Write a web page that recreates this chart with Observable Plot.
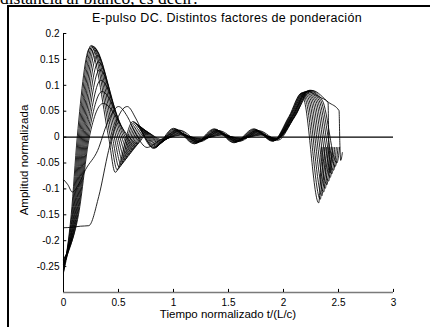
<!DOCTYPE html>
<html><head><meta charset="utf-8">
<script src="https://cdn.jsdelivr.net/npm/d3@7"></script>
<script src="https://cdn.jsdelivr.net/npm/@observablehq/plot@0.6"></script>
<style>
html,body{margin:0;padding:0;background:#fff;}
#wrap{position:relative;width:430px;height:327px;overflow:hidden;background:#fff;font-family:"Liberation Sans",Arial,sans-serif;color:#000;}
#doc{position:absolute;left:0;top:-10px;font:17.5px/17.5px "Liberation Serif","Times New Roman",serif;white-space:nowrap;}
#frame{position:absolute;left:7px;top:5px;width:440px;height:340px;border-left:2px solid #000;border-top:2px solid #000;}
.lbl{position:absolute;white-space:nowrap;line-height:1;transform:translate(-50%,-50%);font-size:11.5px;}
#chart{position:absolute;left:0;top:0;}
</style></head><body>
<div id="wrap">
<div id="doc">distancia al blanco, es decir:</div>
<div id="chart"></div>
<div id="frame"></div>
<div class="lbl" id="title" style="left:227px;top:17.8px;font-size:12.5px;letter-spacing:0.3px">E-pulso DC. Distintos factores de ponderación</div>
<div class="lbl" id="xl" style="left:228px;top:314.5px">Tiempo normalizado t/(L/c)</div>
<div class="lbl" id="yl" style="left:25px;top:160px;transform:translate(-50%,-50%) rotate(-90deg)">Amplitud normalizada</div>
</div>
<script>
// axis settings
const xDomain = [0, 3];
const yDomain = [-0.3, 0.2];
const xTicks = [0, 0.5, 1, 1.5, 2, 2.5, 3];
const xTickLabels = ["0", "0.5", "1", "1.5", "2", "2.5", "3"];
const yTicks = [-0.25, -0.2, -0.15, -0.1, -0.05, 0, 0.05, 0.1, 0.15, 0.2];
const yTickLabels = ["-0.25", "-0.2", "-0.15", "-0.1", "-0.05", "0", "0.05", "0.1", "0.15", "0.2"];

// curves: [t, amplitude]
const c0 = [[0,-0.262],[0.07,-0.15],[0.125,0],[0.24,0.172],[0.41,0],[0.47,-0.068],[0.63,0.03],[0.82,-0.022],[1.0,0.017],[1.19,-0.013],[1.37,0.016],[1.55,-0.011],[1.73,0.016],[1.9,-0.008],[2.05,0.04],[2.165,0.085],[2.19,0.07],[2.32,-0.127],[2.345,-0.02]];
const c1 = [[0,-0.258],[0.076,-0.15],[0.135,0],[0.251,0.177],[0.427,0],[0.488,-0.063],[0.642,0.028],[0.826,-0.0204],[1.006,0.0158],[1.196,-0.0121],[1.376,0.0149],[1.556,-0.0102],[1.736,0.0149],[1.904,-0.0075],[2.055,0.04],[2.172,0.0855],[2.205,0.07],[2.335,-0.12],[2.36,-0.02]];
const c2 = [[0,-0.255],[0.082,-0.15],[0.145,0],[0.262,0.176],[0.444,0],[0.506,-0.058],[0.654,0.026],[0.832,-0.0188],[1.012,0.0146],[1.202,-0.0112],[1.382,0.0138],[1.562,-0.0094],[1.742,0.0138],[1.908,-0.007],[2.06,0.04],[2.179,0.086],[2.22,0.07],[2.35,-0.113],[2.375,-0.02]];
const c3 = [[0,-0.252],[0.088,-0.15],[0.155,0],[0.273,0.175],[0.461,0],[0.524,-0.053],[0.666,0.024],[0.838,-0.0172],[1.018,0.0134],[1.208,-0.0103],[1.388,0.0127],[1.568,-0.0086],[1.748,0.0127],[1.912,-0.0065],[2.065,0.04],[2.186,0.0865],[2.235,0.07],[2.365,-0.106],[2.39,-0.02]];
const c4 = [[0,-0.26],[0.094,-0.15],[0.165,0],[0.284,0.172],[0.478,0],[0.542,-0.048],[0.678,0.022],[0.844,-0.0156],[1.024,0.0122],[1.214,-0.0094],[1.394,0.0116],[1.574,-0.0078],[1.754,0.0116],[1.916,-0.006],[2.07,0.04],[2.193,0.087],[2.25,0.07],[2.38,-0.099],[2.405,-0.02]];
const c5 = [[0,-0.248],[0.1,-0.15],[0.175,0],[0.295,0.167],[0.495,0],[0.56,-0.043],[0.69,0.02],[0.85,-0.014],[1.03,0.011],[1.22,-0.0085],[1.4,0.0105],[1.58,-0.007],[1.76,0.0105],[1.92,-0.0055],[2.075,0.04],[2.2,0.0875],[2.265,0.07],[2.395,-0.092],[2.42,-0.02]];
const c6 = [[0,-0.245],[0.106,-0.15],[0.185,0],[0.306,0.158],[0.512,0],[0.578,-0.038],[0.702,0.018],[0.856,-0.0124],[1.036,0.0098],[1.226,-0.0076],[1.406,0.0094],[1.586,-0.0062],[1.766,0.0094],[1.924,-0.005],[2.08,0.04],[2.207,0.088],[2.28,0.07],[2.41,-0.085],[2.435,-0.02]];
const c7 = [[0,-0.25],[0.112,-0.15],[0.195,0],[0.317,0.145],[0.529,0],[0.596,-0.033],[0.714,0.016],[0.862,-0.0108],[1.042,0.0086],[1.232,-0.0067],[1.412,0.0083],[1.592,-0.0054],[1.772,0.0083],[1.928,-0.0045],[2.085,0.04],[2.214,0.0885],[2.295,0.07],[2.425,-0.078],[2.45,-0.02]];
const c8 = [[0,-0.242],[0.118,-0.15],[0.205,0],[0.328,0.13],[0.546,0],[0.614,-0.028],[0.726,0.014],[0.868,-0.0092],[1.048,0.0074],[1.238,-0.0058],[1.418,0.0072],[1.598,-0.0046],[1.778,0.0072],[1.932,-0.004],[2.09,0.04],[2.221,0.089],[2.31,0.07],[2.44,-0.071],[2.465,-0.02]];
const c9 = [[0,-0.238],[0.124,-0.15],[0.215,0],[0.339,0.11],[0.563,0],[0.632,-0.023],[0.738,0.012],[0.874,-0.0076],[1.054,0.0062],[1.244,-0.0049],[1.424,0.0061],[1.604,-0.0038],[1.784,0.0061],[1.936,-0.0035],[2.095,0.04],[2.228,0.0895],[2.325,0.07],[2.455,-0.064],[2.48,-0.02]];
const c10 = [[0,-0.244],[0.13,-0.15],[0.225,0],[0.35,0.088],[0.58,0],[0.65,-0.018],[0.75,0.01],[0.88,-0.006],[1.06,0.005],[1.25,-0.004],[1.43,0.005],[1.61,-0.003],[1.79,0.005],[1.94,-0.003],[2.1,0.04],[2.235,0.09],[2.34,0.07],[2.47,-0.057],[2.495,-0.02]];
const c11 = [[0,-0.236],[0.136,-0.15],[0.235,0],[0.361,0.065],[0.597,0],[0.668,-0.013],[0.762,0.008],[0.886,-0.0044],[1.066,0.0038],[1.256,-0.0031],[1.436,0.0039],[1.616,-0.0022],[1.796,0.0039],[1.944,-0.0025],[2.105,0.04],[2.242,0.0905],[2.355,0.07],[2.485,-0.05],[2.51,-0.02]];
const cA = [[0,-0.082],[0.04,-0.092],[0.08,-0.106],[0.14,-0.09],[0.2,-0.063],[0.31,-0.026],[0.4,0.028],[0.5,0.059],[0.58,0.04],[0.66,0.005],[0.76,-0.02],[0.86,-0.008],[0.94,0.002],[1.04,0.014],[1.22,-0.01],[1.4,0.013],[1.58,-0.009],[1.76,0.013],[1.93,-0.006],[2.08,0.04],[2.22,0.088],[2.32,0.078],[2.405,0.067],[2.412,-0.02],[2.42,-0.069],[2.44,-0.03]];
const cB = [[0,-0.175],[0.08,-0.174],[0.155,-0.172],[0.23,-0.171],[0.32,-0.115],[0.41,-0.026],[0.5,0.04],[0.58,0.059],[0.66,0.035],[0.74,0],[0.82,-0.02],[0.92,-0.006],[1.06,0.013],[1.24,-0.009],[1.42,0.012],[1.6,-0.008],[1.78,0.012],[1.95,-0.006],[2.1,0.04],[2.26,0.09],[2.41,0.067],[2.505,0.051],[2.512,-0.01],[2.52,-0.045],[2.535,-0.03]];

const curves = [c0, c1, c2, c3, c4, c5, c6, c7, c8, c9, c10, c11, cA, cB];
const rows = curves.flatMap((c, k) => c.map(([t, v]) => ({id: k, t, v})));
const yLab = new Map(yTicks.map((d, i) => [d, yTickLabels[i]]));
const xLab = new Map(xTicks.map((d, i) => [d, xTickLabels[i]]));

const chart = Plot.plot({
  width: 430, height: 327,
  marginLeft: 63, marginRight: 37, marginTop: 33, marginBottom: 35,
  x: {domain: xDomain, axis: null},
  y: {domain: yDomain, axis: null},
  style: {background: "none", fontFamily: "'Liberation Sans', Arial, sans-serif", fontSize: "10px", color: "black", overflow: "visible"},
  marks: [
    Plot.line(rows, {x: "t", y: "v", z: "id", stroke: "black", strokeWidth: 0.85, curve: "monotone-x"}),
    Plot.ruleY([0], {stroke: "black", strokeWidth: 1.3}),
    Plot.ruleX([xDomain[0]], {stroke: "black", strokeWidth: 1}),
    Plot.ruleY([yDomain[0]], {stroke: "#7a7a7a", strokeWidth: 1.6}),
    Plot.ruleY(yTicks, {x1: xDomain[0], x2: 0.03, stroke: "black"}),
    Plot.ruleX(xTicks, {y1: yDomain[0], y2: -0.294, stroke: "black"}),
    Plot.axisY({ticks: yTicks, tickSize: 0, tickPadding: 4, tickFormat: d => yLab.get(d), fontSize: 10, label: null}),
    Plot.axisX({ticks: xTicks, tickSize: 0, tickPadding: 6, tickFormat: d => xLab.get(d), fontSize: 10, label: null})
  ]
});
document.getElementById("chart").appendChild(chart);
</script>
</body></html>
